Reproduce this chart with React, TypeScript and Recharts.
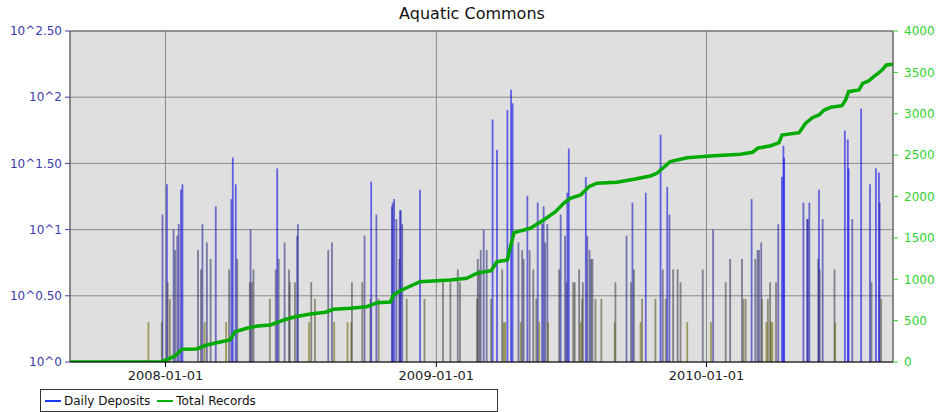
import React from "react";
import { ComposedChart, Bar, Line, XAxis, YAxis, CartesianGrid, Cell, ReferenceLine } from "recharts";

const FONT = '"DejaVu Sans", Verdana, sans-serif';

// day numbers are counted from 2008-01-01
const depositDays = [
  -23, -5, -4, 2, 3, 6, 11, 13, 16, 18, 21, 23, 44, 48, 50, 53, 56, 61, 68, 82,
  86, 89, 91, 95, 97, 114, 115, 117, 119, 141, 149, 151, 153, 161, 167, 168, 175, 178, 179, 194,
  197, 202, 220, 225, 228, 246, 251, 252, 266, 269, 277, 278, 285, 288, 306, 307, 309, 312, 316, 317,
  318, 320, 326, 344, 350, 375, 385, 395, 398, 421, 422, 424, 426, 430, 434, 440, 442, 448, 455, 457,
  459, 462, 467, 469, 477, 480, 482, 484, 489, 492, 497, 501, 503, 505, 509, 511, 513, 516, 517, 532,
  534, 540, 542, 543, 545, 551, 553, 559, 561, 563, 564, 568, 570, 573, 575, 577, 581, 589, 607, 608,
  623, 629, 631, 633, 642, 644, 649, 662, 669, 672, 676, 678, 681, 686, 692, 696, 705, 726, 737, 740,
  757, 763, 779, 781, 784, 792, 797, 800, 802, 805, 806, 812, 814, 817, 818, 820, 825, 828, 833, 835,
  836, 862, 867, 868, 870, 882, 883, 884, 888, 904, 905, 918, 922, 923, 928, 940, 952, 954, 960, 964,
  965, 967,
];
const depositCounts = [
  2, 2, 13, 22, 4, 3, 10, 7, 9, 11, 20, 22, 7, 5, 11, 2, 8, 6, 15, 2,
  5, 17, 35, 22, 6, 4, 10, 4, 5, 3, 5, 29, 6, 8, 5, 4, 4, 9, 11, 2,
  4, 3, 7, 8, 2, 2, 2, 4, 4, 9, 3, 23, 13, 3, 15, 16, 17, 12, 6, 14,
  14, 11, 3, 20, 3, 4, 4, 5, 4, 3, 6, 5, 7, 10, 7, 3, 68, 40, 5, 2,
  2, 80, 114, 90, 8, 2, 7, 6, 18, 7, 5, 3, 16, 2, 11, 15, 8, 11, 2, 5,
  13, 9, 4, 19, 41, 4, 4, 5, 2, 3, 4, 25, 9, 7, 6, 6, 3, 3, 2, 4,
  9, 4, 16, 5, 2, 3, 19, 3, 52, 5, 3, 21, 13, 5, 5, 4, 2, 5, 2, 10,
  4, 6, 6, 3, 3, 17, 6, 7, 7, 8, 3, 2, 3, 4, 2, 2, 4, 11, 25, 43,
  35, 16, 12, 12, 16, 6, 20, 5, 12, 5, 2, 56, 48, 29, 12, 82, 22, 4, 29, 27,
  16, 3,
];

const totalDays = [
  -129, -5, 11, 17, 22, 42, 56, 72, 87, 94, 110, 124, 142, 160, 175, 196, 216, 227, 250, 272,
  286, 304, 308, 317, 344, 385, 407, 421, 440, 448, 462, 465, 471, 493, 511, 527, 538, 547, 561, 572,
  583, 610, 633, 655, 664, 669, 682, 705, 736, 777, 793, 800, 818, 829, 833, 856, 865, 874, 883, 890,
  899, 914, 919, 923, 937, 942, 950, 957, 964, 969, 974, 983,
];
const totalRecords = [
  0, 4, 64, 105, 153, 157, 205, 238, 266, 366, 407, 435, 447, 508, 547, 580, 601, 637, 649, 668,
  717, 725, 810, 862, 970, 991, 1012, 1072, 1103, 1212, 1233, 1354, 1563, 1616, 1716, 1816, 1918, 1978, 2018, 2118,
  2160, 2172, 2208, 2248, 2280, 2320, 2421, 2469, 2490, 2510, 2534, 2583, 2614, 2650, 2743, 2771, 2885, 2952, 2985, 3045,
  3078, 3097, 3166, 3267, 3287, 3368, 3396, 3448, 3496, 3537, 3589, 3598,
];

const yearTickDays = [0, 366, 731];
const logTickExponents = [0, 0.5, 1, 1.5, 2, 2.5];
const logTickLabels = ["10^0", "10^0.50", "10^1", "10^1.50", "10^2", "10^2.50"];
const totalTicks = [0, 500, 1000, 1500, 2000, 2500, 3000, 3500, 4000];

const DAY0 = Date.UTC(2008, 0, 1);
const fmtDay = (d: number) => new Date(DAY0 + d * 86400000).toISOString().slice(0, 10);

const logTicks = logTickExponents.map((e) => Math.pow(10, e));
const fmtLog = (v: number) => {
  const i = logTicks.findIndex((t) => Math.abs(t - v) < t * 1e-6);
  return i >= 0 ? logTickLabels[i] : "";
};

// bar colour goes olive -> grey -> blue as the count grows
const OLIVE = [110, 106, 10];
const GREY = [64, 64, 90];
const BLUE = [10, 10, 235];
const clamp = (t: number) => Math.max(0, Math.min(1, t));
function mix(a: number[], b: number[], t: number) {
  const c = a.map((v, i) => Math.round(v + (b[i] - v) * t));
  return `rgb(${c[0]},${c[1]},${c[2]})`;
}
function barColor(v: number) {
  const l = Math.log10(v);
  if (v <= 5) return mix(OLIVE, GREY, clamp((l - Math.log10(2)) / (Math.log10(5) - Math.log10(2))));
  return mix(GREY, BLUE, clamp((l - Math.log10(5)) / (Math.log10(25) - Math.log10(5))));
}

type Row = { day: number; deposits?: number; total?: number };
const rowMap = new Map<number, Row>();
depositDays.forEach((d, i) => rowMap.set(d, { day: d, deposits: depositCounts[i] }));
totalDays.forEach((d, i) => {
  const r = rowMap.get(d) ?? { day: d };
  r.total = totalRecords[i];
  rowMap.set(d, r);
});
const data = [...rowMap.values()].sort((a, b) => a.day - b.day);

// thin fixed-width spike, centred on the bar the library positioned
const Spike = (p: any) => {
  if (!p.height || !isFinite(p.y)) return null;
  const cx = p.x + p.width / 2;
  return <rect x={cx - 0.9} y={p.y} width={1.8} height={p.height} fill={p.fill} fillOpacity={0.6} />;
};

export default function App() {
  return (
    <div style={{ position: "absolute", left: 0, top: 0, width: 940, height: 412, background: "#fff", fontFamily: FONT }}>
      <div style={{ position: "absolute", left: 0, top: 4, width: 944, textAlign: "center", fontSize: 16, color: "#111" }}>
        Aquatic Commons
      </div>
      <ComposedChart width={940} height={412} data={data} margin={{ top: 31, right: 0, bottom: 0, left: 0 }} barSize={2} barGap={0}>
        <CartesianGrid yAxisId="left" stroke="#8a8a8a" fill="#dfdfdf" fillOpacity={1} />
        <XAxis
          dataKey="day"
          type="number"
          domain={[-129, 983]}
          ticks={yearTickDays}
          tickFormatter={fmtDay}
          allowDataOverflow
          height={50}
          tickSize={5}
          tickMargin={4}
          axisLine={{ stroke: "#000" }}
          tickLine={{ stroke: "#000" }}
          tick={{ fontSize: 13, fill: "#222", fontFamily: FONT }}
        />
        <YAxis
          yAxisId="left"
          scale="log"
          domain={[1, logTicks[logTicks.length - 1]]}
          ticks={logTicks}
          tickFormatter={fmtLog}
          allowDataOverflow
          width={70}
          tickSize={5}
          tickMargin={3}
          axisLine={{ stroke: "#555" }}
          tickLine={{ stroke: "#3a3aaa" }}
          tick={{ fontSize: 12, fill: "#3a3aaa", fontFamily: FONT }}
        />
        <YAxis
          yAxisId="right"
          orientation="right"
          domain={[0, 4000]}
          ticks={totalTicks}
          allowDataOverflow
          width={47}
          tickSize={5}
          tickMargin={6}
          axisLine={{ stroke: "#555" }}
          tickLine={{ stroke: "#2fd12f" }}
          tick={{ fontSize: 12, fill: "#2fd12f", fontFamily: FONT }}
        />
        <ReferenceLine yAxisId="left" y={logTicks[logTicks.length - 1]} stroke="#666" />
        <Bar yAxisId="left" dataKey="deposits" isAnimationActive={false} shape={Spike}>
          {data.map((r) => (
            <Cell key={r.day} fill={r.deposits ? barColor(r.deposits) : "none"} />
          ))}
        </Bar>
        <Line
          yAxisId="right"
          dataKey="total"
          type="linear"
          stroke="#00aa00"
          strokeWidth={3.5}
          dot={false}
          connectNulls
          isAnimationActive={false}
        />
      </ComposedChart>
      <div
        style={{
          position: "absolute",
          left: 40,
          top: 389,
          width: 456,
          height: 21,
          border: "1px solid #333",
          display: "flex",
          alignItems: "center",
          fontSize: 12,
          color: "#111",
        }}
      >
        <span style={{ display: "inline-block", width: 16, height: 2, background: "#1a3cff", marginLeft: 4, marginRight: 3 }} />
        <span>Daily Deposits</span>
        <span style={{ display: "inline-block", width: 16, height: 2, background: "#00b000", marginLeft: 7, marginRight: 3 }} />
        <span>Total Records</span>
      </div>
    </div>
  );
}
